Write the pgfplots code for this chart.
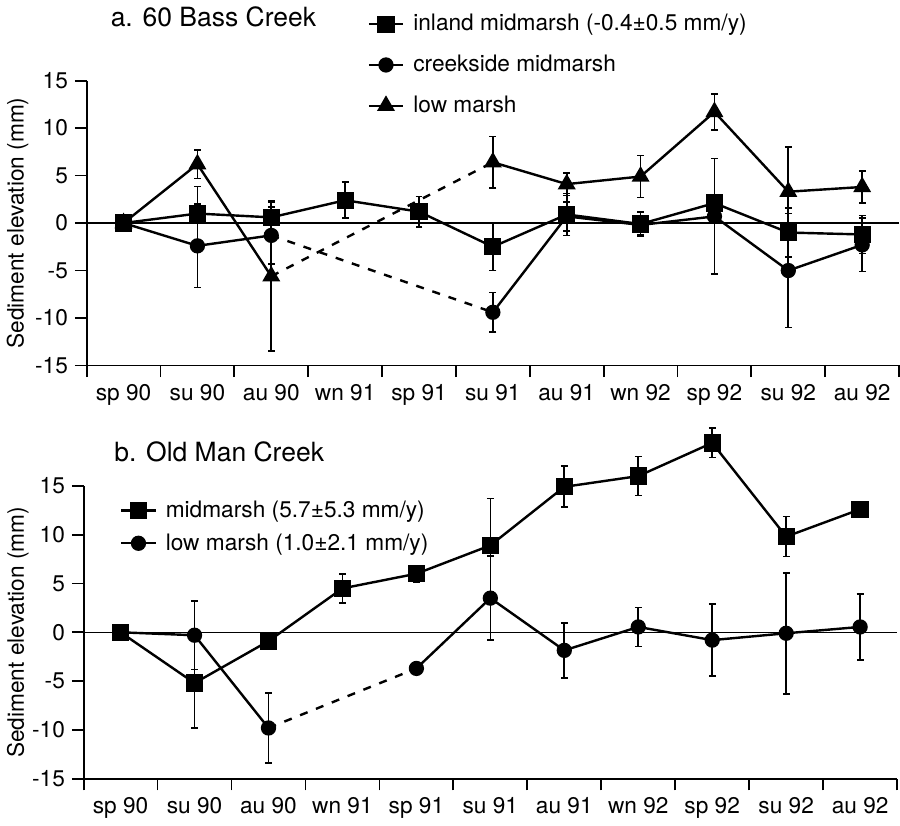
\documentclass[border=0pt]{standalone}
\usepackage{fontspec}
\setmainfont{TeX Gyre Heros}
\usepackage{pgfplots}
\pgfplotsset{compat=1.18}
\newcommand{\tf}{\fontsize{11.3}{13}\selectfont}
\newcommand{\ttlf}{\fontsize{13.2}{15}\selectfont}
\pgfplotsset{
  myax/.style={
    scale only axis,
    xmin=-0.5, xmax=10.5, ymin=-15, ymax=15,
    clip=false,
    axis x line*=bottom, axis y line*=left,
    axis line style={line width=0.9pt},
    xtick={-0.5,0.5,...,10.5},
    x tick label as interval,
    xticklabels={sp 90,su 90,au 90,wn 91,sp 91,su 91,au 91,wn 92,sp 92,su 92,au 92},
    ytick={-15,-10,...,15},
    tick align=outside,
    major tick length=5.8pt,
    tick style={line width=0.9pt, black},
    tick label style={font=\tf},
    /pgf/number format/assume math mode=true,
    label style={font=\tf},
    every axis title shift=0pt,
    ylabel={Sediment elevation (mm)},
    legend style={draw=none, fill=none, font=\tf, legend cell align=left, column sep=2.5pt},
    legend cell align=left,
  },
  ser/.style={black, line width=1.2pt, solid,
    error bars/y dir=both, error bars/y explicit,
    error bars/error bar style={line width=0.85pt, solid},
    error bars/error mark options={rotate=90, mark size=1.7pt, line width=0.85pt, solid}},
  sq/.style={ser, mark=square*, mark size=3.7pt, mark options={solid, fill=black}},
  ci/.style={ser, mark=*, mark size=3.2pt, mark options={solid, fill=black}},
  tr/.style={ser, mark=triangle*, mark size=4pt, mark options={solid, fill=black}},
  dsh/.style={black, line width=1.2pt, dash pattern=on 4pt off 4.5pt, no markers, forget plot},
}
\begin{document}
\begin{tikzpicture}
% ---------------- panel a ----------------
\begin{axis}[myax, at={(0,0)}, anchor=south west,
  width=405pt, height=142pt,
  title={a. 60 Bass Creek},
  title style={font=\ttlf, at={(axis description cs:0.021,1.224)}, anchor=west},
  ylabel style={at={(axis description cs:-0.085,0.5)}, anchor=center},
  legend style={at={(axis description cs:0.338,1.262)}, anchor=north west, row sep=6.6pt},
]
\addplot[black, line width=0.8pt, forget plot] coordinates {(-0.5,0) (10.5,0)};
% inland midmarsh
\addplot[sq] table[x=x, y=y, y error=e] {
x y e
0 0 0
1 1.0 2.85
2 0.6 1.6
3 2.4 1.9
4 1.2 1.6
5 -2.5 2.5
6 0.9 2.2
7 -0.1 1.25
8 2.1 0.9
9 -1.0 2.6
10 -1.2 2.0
};
\addlegendentry{inland midmarsh (-0.4±0.5 mm/y)}
% creekside midmarsh
\addplot[ci] table[x=x, y=y, y error=e] {
x y e
0 0 0
1 -2.4 4.4
2 -1.3 3.0
};
\addlegendentry{creekside midmarsh}
% low marsh
\addplot[tr] table[x=x, y=y, y error=e] {
x y e
0 0 0
1 6.2 1.5
2 -5.6 7.9
};
\addlegendentry{low marsh}
\addplot[ci, forget plot] table[x=x, y=y, y error=e] {
x y e
5 -9.4 2.1
6 0.7 1.5
7 -0.2 1.0
8 0.7 6.1
9 -5.0 6.0
10 -2.3 2.8
};
\addplot[tr, forget plot] table[x=x, y=y, y error=e] {
x y e
5 6.4 2.7
6 4.1 1.2
7 4.9 2.2
8 11.7 1.9
9 3.3 4.7
10 3.8 1.7
};
\addplot[dsh] coordinates {(2,-1.3) (5,-9.4)};
\addplot[dsh] coordinates {(2,-5.6) (5,6.4)};
\end{axis}
% ---------------- panel b ----------------
\begin{axis}[myax, at={(-1.5pt,-206pt)}, anchor=south west,
  width=405.5pt, height=146pt,
  title={b. Old Man Creek},
  title style={font=\ttlf, at={(axis description cs:0.029,1.116)}, anchor=west},
  ylabel style={at={(axis description cs:-0.081,0.5)}, anchor=center},
  legend style={at={(axis description cs:0.037,0.978)}, anchor=north west, row sep=2.6pt},
]
\addplot[black, line width=0.8pt, forget plot] coordinates {(-0.5,0) (10.5,0)};
\addplot[sq] table[x=x, y=y, y error=e] {
x y e
0 0 0
1 -5.2 4.6
2 -0.9 0.5
3 4.5 1.5
4 6.0 0.85
5 8.9 4.8
6 14.9 2.1
7 16.0 2.0
8 19.4 1.5
9 9.8 2.05
10 12.6 0.5
};
\addlegendentry{midmarsh (5.7±5.3 mm/y)}
\addplot[ci] table[x=x, y=y, y error=e] {
x y e
0 0 0
1 -0.3 3.5
2 -9.8 3.6
};
\addlegendentry{low marsh (1.0±2.1 mm/y)}
\addplot[ci, forget plot] table[x=x, y=y, y error=e] {
x y e
4 -3.7 0.3
5 3.5 4.3
6 -1.85 2.8
7 0.55 2.0
8 -0.8 3.7
9 -0.1 6.2
10 0.55 3.4
};
\addplot[dsh] coordinates {(2,-9.8) (4,-3.7)};
\end{axis}
\end{tikzpicture}
\end{document}
